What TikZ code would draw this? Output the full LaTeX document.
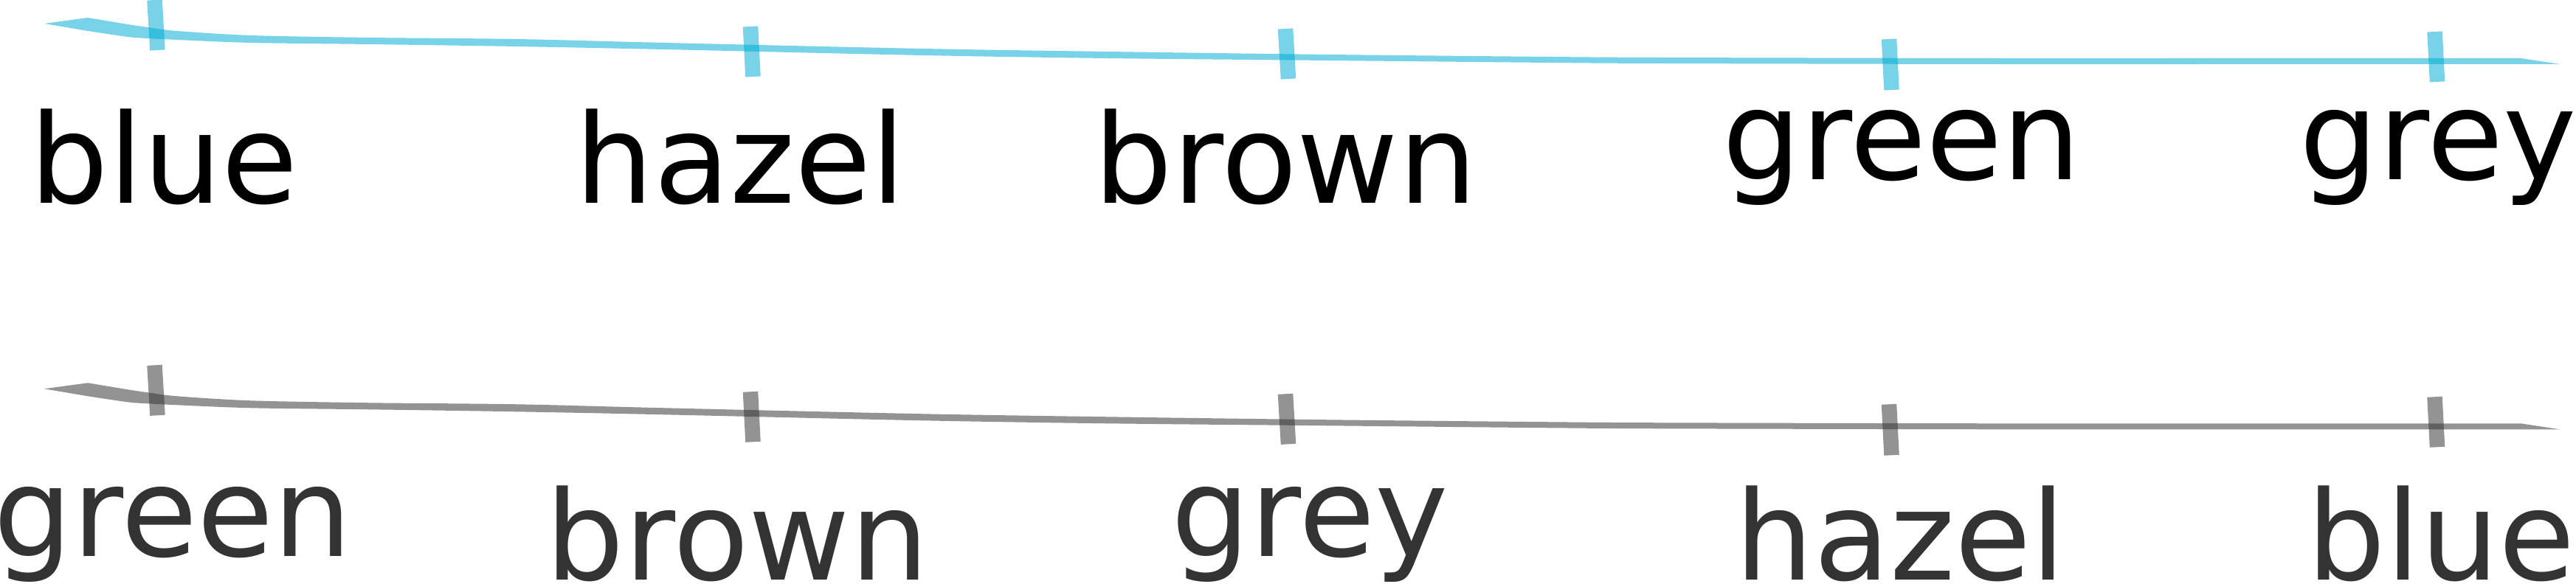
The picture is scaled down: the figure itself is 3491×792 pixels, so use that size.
\documentclass[tikz,border=0pt]{standalone}
\usepackage{fontspec}
\setmainfont{DejaVu Sans}
\definecolor{eyeblue}{RGB}{0,172,212}
\definecolor{eyegrey}{RGB}{51,51,51}
\newcommand{\eyestroke}{%
  (60,32) -- (119,24)
  -- plot[smooth, tension=0.5] coordinates {(173,33) (200,37) (240,42) (340,48) (500,51) (700,53) (900,58) (1250,66) (1500,70) (1800,74) (2100,77) (2250,78) (2700,79) (3000,79) (3416,79)}
  -- (3469,87)
  -- plot[smooth, tension=0.5] coordinates {(3000,87) (2700,87) (2250,86) (2100,85) (1800,82) (1500,79) (1250,75) (900,67) (700,63) (500,60) (340,58) (240,54) (200,52) (173,50) (119,42)}
  -- cycle}
\begin{document}
\begin{tikzpicture}[x=0.01cm, y=-0.01cm,
  word/.style={anchor=south west, inner sep=0pt, font=\fontsize{47.8pt}{57pt}\selectfont},
  topword/.style={word, text=black},
  botword/.style={word, text=eyegrey},
  tickmark/.style={line width=0.205cm, line cap=butt},
  bluefill/.style={fill=eyeblue, fill opacity=0.53},
  greyfill/.style={fill=eyegrey, fill opacity=0.53},
  bluetick/.style={tickmark, draw=eyeblue, draw opacity=0.53},
  greytick/.style={tickmark, draw=eyegrey, draw opacity=0.53}]
\useasboundingbox (0,0) rectangle (3491,792);

% ---- top row (blue) ----
\begin{scope}
  \fill[bluefill] \eyestroke;
  \coordinate (ta1) at (209.5,0);    \coordinate (tb1) at (213.5,68);
  \coordinate (ta2) at (1017,36);    \coordinate (tb2) at (1020.5,104);
  \coordinate (ta3) at (1742,39);    \coordinate (tb3) at (1746,107);
  \coordinate (ta4) at (2560,53);    \coordinate (tb4) at (2563.5,122);
  \coordinate (ta5) at (3299.5,43);  \coordinate (tb5) at (3303,111);
  \foreach \i in {1,...,5} {\draw[bluetick] (ta\i) -- (tb\i);}
\end{scope}
\node[topword] (w1) at (40,279) {blue};
\node[topword] (w2) at (779,279) {hazel};
\node[topword] (w3) at (1482,279) {brown};
\node[topword] (w4) at (2334,279) {green};
\node[topword] (w5) at (3116,279) {grey};

% ---- bottom row (grey) ----
\begin{scope}[yshift=-4.95cm]
  \fill[greyfill] \eyestroke;
  \coordinate (ba1) at (209.5,0);    \coordinate (bb1) at (213.5,68);
  \coordinate (ba2) at (1017,36);    \coordinate (bb2) at (1020.5,104);
  \coordinate (ba3) at (1742,39);    \coordinate (bb3) at (1746,107);
  \coordinate (ba4) at (2560,53);    \coordinate (bb4) at (2563.5,122);
  \coordinate (ba5) at (3299.5,43);  \coordinate (bb5) at (3303,111);
  \foreach \i in {1,...,5} {\draw[greytick] (ba\i) -- (bb\i);}
\end{scope}
\node[botword] (v1) at (-9,790) {green};
\node[botword] (v2) at (739,790) {brown};
\node[botword] (v3) at (1587,790) {grey};
\node[botword] (v4) at (2351,790) {hazel};
\node[botword] (v5) at (3126,790) {blue};
\end{tikzpicture}
\end{document}
